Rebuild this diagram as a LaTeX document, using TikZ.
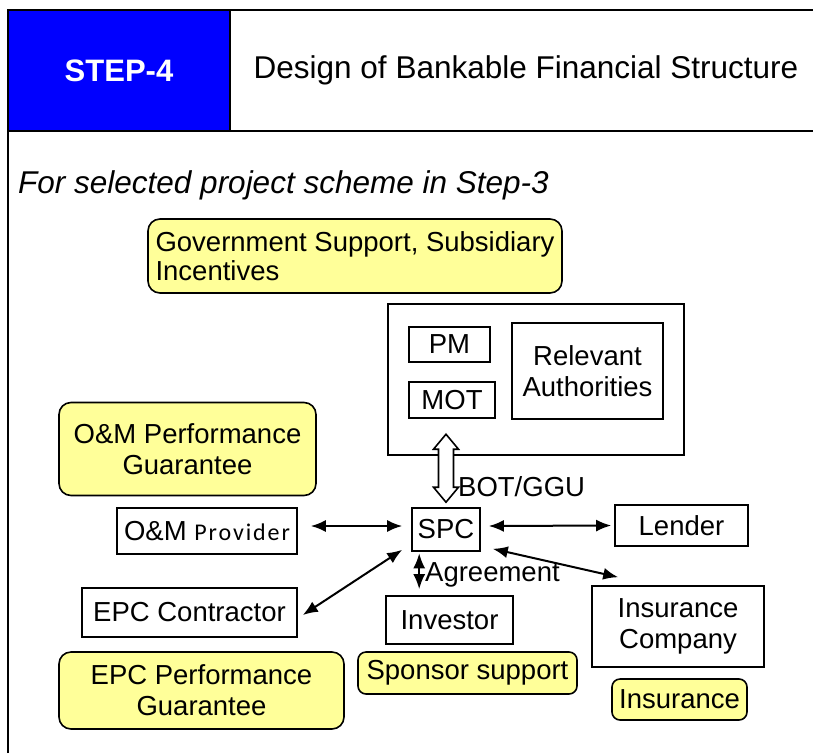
\documentclass[tikz,border=0pt]{standalone}
\usepackage{fontspec}
\setmainfont{Liberation Sans}
\newfontfamily\provfont{Carlito}[LetterSpace=8]
\usetikzlibrary{arrows.meta,calc}
\definecolor{ylw}{HTML}{FFFF99}
\definecolor{stepblue}{HTML}{0000FF}
\begin{document}
\begin{tikzpicture}[x=1pt,y=-1pt,
  box/.style={draw,line width=1.6pt,inner sep=0pt,align=center,font=\fontsize{27.5}{31}\selectfont},
  ybox/.style={box,fill=ylw,rounded corners=12pt},
  sybox/.style={box,fill=ylw,rounded corners=8pt},
  conn/.style={line width=2pt,{Latex[length=15pt,width=12pt]}-{Latex[length=15pt,width=12pt]}},
  frameline/.style={line width=2pt},
]
\useasboundingbox (0,0) rectangle (813,753);
\fill[white] (0,0) rectangle (813,753);

% header
\node[draw,line width=2pt,fill=stepblue,minimum width=222pt,minimum height=121pt,inner sep=0pt,
      text=white,font=\fontsize{31}{35}\selectfont\bfseries] (step4) at (119,70.5) {STEP-4};
\node[font=\fontsize{31.5}{36}\selectfont] (title) at (526,70) {Design of Bankable Financial Structure};
\draw[frameline] (8,753) -- (8,10) -- (813,10);
\draw[frameline] (8,131) -- (813,131);

\node[anchor=west,inner sep=0pt,font=\fontsize{31.5}{36}\selectfont\itshape] (sub) at (18,185) {For selected project scheme in Step-3};

% government support
\node[ybox,minimum width=414pt,minimum height=74pt,align=left,
      font=\fontsize{27.5}{29}\selectfont] (gov) at (355,256) {Government Support, Subsidiary\\Incentives};

% authorities group
\node[box,minimum width=296pt,minimum height=151pt] (auth) at (536,379.5) {};
\node[box,minimum width=81pt,minimum height=35pt] (pm) at (449.5,344.5) {PM};
\node[box,minimum width=86pt,minimum height=36pt] (mot) at (452,400) {MOT};
\node[box,minimum width=151pt,minimum height=96pt] (ra) at (587.5,371) {Relevant\\Authorities};

% central nodes
\node[box,minimum width=68pt,minimum height=43pt] (spc) at (446,529.5) {SPC};
\node[box,minimum width=133pt,minimum height=41pt] (lender) at (681.5,525.5) {Lender};
\node[ybox,minimum width=257pt,minimum height=93pt] (omg) at (187.5,449) {O\&M Performance\\Guarantee};
\node[box,minimum width=180pt,minimum height=46pt] (omp) at (207,531) {O\&M {\provfont\fontsize{24}{28}\selectfont Provider}};
\node[box,minimum width=215pt,minimum height=49pt] (epc) at (189.5,612.5) {EPC Contractor};
\node[ybox,minimum width=285pt,minimum height=77pt] (epcg) at (201.5,690.5) {EPC Performance\\Guarantee};
\node[box,minimum width=127pt,minimum height=48pt] (inv) at (449.5,620) {Investor};
\node[sybox,minimum width=219pt,minimum height=42pt] (spons) at (467.5,673) {Sponsor support};
\node[box,minimum width=172pt,minimum height=81pt] (insco) at (678,626.5) {Insurance\\Company};
\node[sybox,minimum width=135pt,minimum height=41pt] (ins) at (679.5,699.5) {Insurance};

% hollow double arrow between authorities and SPC
\coordinate (bt) at ($(spc.north)+(0,-73)$);
\coordinate (bb) at ($(spc.north)+(0,-5)$);
\draw[line width=1.6pt,fill=white]
  (bt) -- ++(12.5,15) -- ++(-5,0) -- ++(0,38) -- ++(5,0) -- (bb)
  -- ++(-12.5,-15) -- ++(5,0) -- ++(0,-38) -- ++(-5,0) -- cycle;
\node[anchor=south west,inner sep=0pt,font=\fontsize{27.5}{31}\selectfont] (bot) at (458,497) {BOT/GGU};

% connectors
\draw[conn] ($(omp.east)+(13,-5)$) -- ($(spc.west)+(-9,-3.5)$);
\draw[conn] ($(spc.east)+(8,-3.5)$) -- ($(lender.west)+(-3,0)$);
\draw[conn] ($(epc.east)+(5,2.5)$) -- ($(spc.south west)+(-9,-2)$);
\draw[conn] ($(spc.south east)+(12,-3)$) -- ($(insco.north west)+(27,-8)$);
\draw[conn] ($(spc.south west)+(8,1.5)$) -- ($(inv.north west)+(34,-6)$);
\node[anchor=west,inner sep=0pt,font=\fontsize{27.5}{31}\selectfont] (agr) at (425,575) {Agreement};
\end{tikzpicture}
\end{document}
